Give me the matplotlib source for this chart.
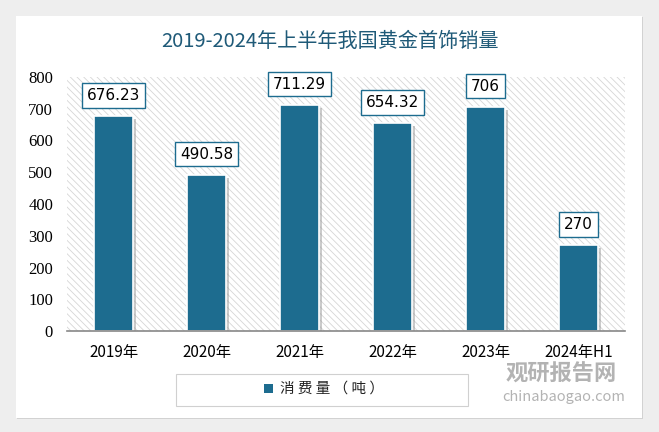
import matplotlib.pyplot as plt
import matplotlib.patheffects as pe
from matplotlib.patches import Rectangle

plt.rcParams['font.family'] = ['Noto Sans CJK SC', 'DejaVu Sans']
plt.rcParams['hatch.linewidth'] = 0.6

# data
years = ['2019年', '2020年', '2021年', '2022年', '2023年', '2024年H1']
sales = [676.23, 490.58, 711.29, 654.32, 706, 270]
labels = ['676.23', '490.58', '711.29', '654.32', '706', '270']
yticks = [0, 100, 200, 300, 400, 500, 600, 700, 800]

bar_color = '#1D6C8F'
title_color = '#1F5A78'

fig = plt.figure(figsize=(6.59, 4.32), dpi=100)
fig.patch.set_facecolor('#eeeeee')

# white card with soft shadow
card = Rectangle((16 / 659, 14 / 432), 626 / 659, 402 / 432, transform=fig.transFigure,
                 facecolor='white', edgecolor='none', zorder=-10,
                 path_effects=[pe.SimplePatchShadow(offset=(1, -1), shadow_rgbFace='#cfcfcf', alpha=0.9),
                               pe.Normal()])
fig.patches.append(card)

ax = fig.add_axes([67 / 659, (432 - 331) / 432, 558 / 659, 254 / 432])
ax.set_facecolor('white')
ax.add_patch(Rectangle((0, 0), 1, 1, transform=ax.transAxes, facecolor='white',
                       edgecolor='#d6d6d6', linewidth=0, hatch='\\\\\\\\\\', zorder=0))

x = range(len(years))
bars = ax.bar(x, sales, width=0.43, color=bar_color, edgecolor='white', linewidth=1.2, zorder=3)
for b in bars:
    b.set_path_effects([pe.SimplePatchShadow(offset=(2, -2), shadow_rgbFace='#999999', alpha=0.5),
                        pe.Normal()])

for xi, v, lab in zip(x, sales, labels):
    ax.annotate(lab, (xi, v), xytext=(0, 15), textcoords='offset points',
                ha='center', va='center', fontsize=11, family=['DejaVu Sans'], color='black',
                bbox=dict(boxstyle='square,pad=0.3', facecolor='white', edgecolor=bar_color, linewidth=1),
                zorder=5)

ax.set_xlim(-0.5, 5.5)
ax.set_ylim(0, 800)
ax.set_yticks(yticks)
ax.set_yticklabels([str(t) for t in yticks], family='Liberation Serif', fontsize=12)
ax.set_xticks(list(x))
ax.set_xticklabels(years, fontsize=11)
ax.tick_params(axis='both', length=0)
ax.tick_params(axis='y', pad=10)
ax.tick_params(axis='x', pad=9)
for s in ['top', 'right', 'left']:
    ax.spines[s].set_visible(False)
ax.spines['bottom'].set_color('#888888')
ax.spines['bottom'].set_linewidth(1.2)
ax.spines['bottom'].set_zorder(4)

fig.text(0.5, (432 - 41) / 432, '2019-2024年上半年我国黄金首饰销量', ha='center', va='center',
         fontsize=14.5, color=title_color)

# legend box
fig.patches.append(Rectangle((176 / 659, (432 - 406) / 432), 292 / 659, 32 / 432,
                             transform=fig.transFigure, facecolor='white',
                             edgecolor='#d0d0d0', linewidth=0.8, zorder=-5))
fig.patches.append(Rectangle((264 / 659, (432 - 393) / 432), 9 / 659, 9 / 432,
                             transform=fig.transFigure, facecolor=bar_color,
                             edgecolor='none', zorder=-4))
fig.text(280 / 659, (432 - 389) / 432, '消 费 量 （ 吨 ）', ha='left', va='center',
         fontsize=10.5, color='#222222')

# watermark
fig.text(506 / 659, (432 - 374) / 432, '观研报告网', ha='left', va='center', fontsize=16,
         fontweight='bold', color='#9a9a9a', alpha=0.75)
fig.text(502 / 659, (432 - 397) / 432, 'chinabaogao.com', ha='left', va='center', fontsize=10.5,
         color='#9a9a9a', alpha=0.75)

fig.savefig('out.png', dpi=100, facecolor=fig.get_facecolor())
